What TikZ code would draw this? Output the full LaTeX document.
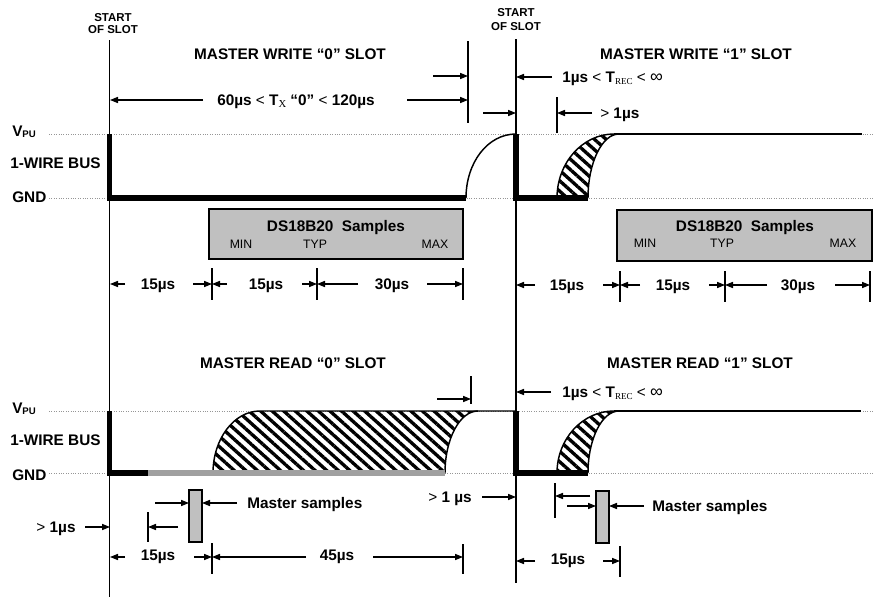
\documentclass[tikz,border=0pt]{standalone}
\usepackage{fontspec}
\setmainfont{Liberation Sans}
\newfontfamily\subfont{Liberation Serif}
\usetikzlibrary{arrows.meta,patterns.meta}
\definecolor{boxgray}{RGB}{192,192,192}
\definecolor{busgray}{RGB}{160,160,160}
\definecolor{dotgray}{RGB}{150,150,150}
\newcommand\mysub[1]{\raisebox{-1.3pt}{\subfont\mdseries\fontsize{8}{8}\selectfont #1}}
\newcommand\mysc[1]{\raisebox{-1.3pt}{\subfont\mdseries\fontsize{6.8}{7}\selectfont #1}}
\newcommand\rg[1]{{\mdseries #1}}
\newcommand\myinf{{\mdseries\fontsize{13.5}{13}\selectfont ∞}}
\begin{document}
\begin{tikzpicture}[x=0.75pt,y=-0.75pt,
  ln/.style={line width=0.8pt},
  ar/.style={line width=0.8pt,-{Triangle[length=6pt,width=4.6pt]}},
  bus/.style={line width=4pt,line join=miter},
  crv/.style={line width=1.1pt},
  dots/.style={dotgray,line width=0.6pt,dash pattern=on 0.6pt off 1.2pt},
  hatch/.style={pattern={Lines[angle=-42,distance=5.8pt,line width=2.5pt]}},
  big/.style={font=\fontsize{11.5}{13}\selectfont\bfseries,inner sep=0pt,text height=8.2pt,text depth=0pt},
  sml/.style={font=\fontsize{8.6}{10}\selectfont\bfseries,inner sep=0pt,text height=6.2pt,text depth=0pt},
  mm/.style={font=\fontsize{9.2}{10}\selectfont,inner sep=0pt,text height=6.6pt,text depth=0pt},
  sbox/.style={draw,line width=0.8pt,fill=boxgray},
]
\useasboundingbox (0,0) rectangle (883,603);

% ---------- reference levels ----------
\foreach \yy in {134,198,411,473} \draw[dots] (49,\yy) -- (873,\yy);

% ---------- start-of-slot lines ----------
\coordinate (L1) at (109.5,40);  \coordinate (L2) at (109.5,597);
\coordinate (R1) at (516,39);    \coordinate (R2) at (516,583);
\draw[ln] (L1) -- (L2);
\draw[ln] (R1) -- (R2);
\node[sml] (sl1) at (113,17) {START};
\node[sml] (sl2) at (113,29) {OF SLOT};
\node[sml] (sr1) at (516,12) {START};
\node[sml] (sr2) at (516,26) {OF SLOT};

% ---------- left labels ----------
\foreach \a/\b/\c in {131/163/197, 408/440/475}{
  \node[big,anchor=west] at (12,\a) {V\raisebox{-0.6pt}{\fontsize{7.2}{7}\selectfont PU}};
  \node[big,anchor=west] at (10,\b) {1-WIRE BUS};
  \node[big,anchor=west] at (12,\c) {GND};
}

% ---------- titles ----------
\node[big] (t1) at (290,54) {MASTER WRITE “0” SLOT};
\node[big] (t2) at (696,54) {MASTER WRITE “1” SLOT};
\node[big] (t3) at (293,363) {MASTER READ “0” SLOT};
\node[big] (t4) at (700,363) {MASTER READ “1” SLOT};

% =========== WRITE SLOTS ===========
% hatch write 1
\fill[hatch] (557,198) .. controls (557,162.8) and (582.6,134) .. (614,134)
  -- (619,134) .. controls (602,134) and (588,162.8) .. (588,198) -- cycle;
\draw[crv] (557,198) .. controls (557,162.8) and (582.6,134) .. (614,134);
\draw[crv] (619,134) .. controls (602,134) and (588,162.8) .. (588,198);
\draw[line width=1.3pt] (614,134) -- (862,134);
% write 0 rise
\draw[crv] (466,198) .. controls (466,162.8) and (487.6,134) .. (516,134);
% bus
\draw[bus] (109.5,134) -- (109.5,198) -- (466,198);
\draw[bus] (516,134) -- (516,198) -- (588,198);

% Tx dimension
\draw[ln] (468,41) -- (468,123);
\draw[ar] (433,76) -- (468,76);
\node[big] (tx) at (296,100) {60µs \rg{<} T\mysub{X} “0” \rg{<} 120µs};
\draw[ar] (203,100) -- (110,100);
\draw[ar] (407,100) -- (468,100);
\draw[ar] (483,113) -- (516,113);
\draw[ar] (552,77) -- (516,77);
\node[big,anchor=west] (trec1) at (562,77) {1µs \rg{<} T\mysc{REC} \rg{<} \myinf};
\draw[ln] (557,97) -- (557,133);
\draw[ar] (592,113) -- (557,113);
\node[big,anchor=west] (g1) at (600,113) {\rg{>} 1µs};

% DS18B20 boxes
\draw[sbox] (209,209) rectangle (463,259);
\node[big] at (336,226) {DS18B20\ \ Samples};
\node[mm] at (241,244) {MIN};
\node[mm] at (315,244) {TYP};
\node[mm] at (435,244) {MAX};
\draw[sbox] (617,210) rectangle (872,261);
\node[big] at (745,226) {DS18B20\ \ Samples};
\node[mm] at (645,243) {MIN};
\node[mm] at (722,243) {TYP};
\node[mm] at (843,243) {MAX};

% dimension row left
\foreach \xx in {212,317,463} \draw[ln] (\xx,268) -- (\xx,300);
\draw[ar] (125,284) -- (110,284);
\draw[ar] (193,284) -- (212,284);
\draw[ar] (227,284) -- (212,284);
\draw[ar] (302,284) -- (317,284);
\draw[ar] (358,284) -- (317,284);
\draw[ar] (427,284) -- (463,284);
\node[big] at (158,284) {15µs};
\node[big] at (266,284) {15µs};
\node[big] at (392,284) {30µs};
% dimension row right
\foreach \xx in {620,725,870} \draw[ln] (\xx,271) -- (\xx,302);
\draw[ar] (535,285) -- (516,285);
\draw[ar] (603,285) -- (620,285);
\draw[ar] (640,285) -- (620,285);
\draw[ar] (709,285) -- (725,285);
\draw[ar] (767,285) -- (725,285);
\draw[ar] (835,285) -- (870,285);
\node[big] at (567,285) {15µs};
\node[big] at (673,285) {15µs};
\node[big] at (798,285) {30µs};

% =========== READ SLOTS ===========
% hatch read 0
\fill[hatch] (213,473) .. controls (213,438.9) and (234,411) .. (260,411)
  -- (478,411) .. controls (459.8,411) and (445,438.9) .. (445,473) -- cycle;
\draw[crv] (213,473) .. controls (213,438.9) and (234,411) .. (260,411) -- (516,411);
\draw[crv] (478,411) .. controls (459.8,411) and (445,438.9) .. (445,473);
% hatch read 1
\fill[hatch] (557,473) .. controls (557,438.9) and (582.6,411) .. (614,411)
  -- (619,411) .. controls (602,411) and (588,438.9) .. (588,473) -- cycle;
\draw[crv] (557,473) .. controls (557,438.9) and (582.6,411) .. (614,411);
\draw[crv] (619,411) .. controls (602,411) and (588,438.9) .. (588,473);
\draw[line width=1.3pt] (614,411) -- (861,411);
% bus
\draw[bus] (109.5,411) -- (109.5,473) -- (148,473);
\draw[busgray,line width=4pt] (148,473) -- (445,473);
\draw[bus] (516,411) -- (516,473) -- (588,473);

% top arrows
\draw[ln] (471,376) -- (471,404);
\draw[ar] (437,399) -- (471,399);
\draw[ar] (551,392) -- (516,392);
\node[big,anchor=west] (trec2) at (562,392) {1µs \rg{<} T\mysc{REC} \rg{<} \myinf};

% master samples left
\draw[sbox] (189,490) rectangle (202,542);
\draw[ar] (155,503) -- (189,503);
\draw[ar] (237,503) -- (202,503);
\node[big,anchor=west] (ms1) at (247,503) {Master samples};
\draw[ln] (148,512) -- (148,542);
\draw[ar] (178,527) -- (148,527);
\node[big] (g2) at (56,527) {\rg{>} 1µs};
\draw[ar] (85,527) -- (110,527);
% dimension row bottom left
\draw[ln] (212,543) -- (212,574);
\draw[ln] (463,544) -- (463,574);
\draw[ar] (125,557) -- (110,557);
\draw[ar] (194,557) -- (212,557);
\draw[ar] (306,557) -- (212,557);
\draw[ar] (373,557) -- (463,557);
\node[big] at (158,555) {15µs};
\node[big] at (337,555) {45µs};

% master samples right
\node[big] (g3) at (450,497) {\rg{>} 1 µs};
\draw[ar] (482,497) -- (516,497);
\draw[ln] (555,483) -- (555,518);
\draw[ar] (590,496) -- (555,496);
\draw[sbox] (596,491) rectangle (609,543);
\draw[ar] (567,506) -- (596,506);
\draw[ar] (644,506) -- (609,506);
\node[big,anchor=west] (ms2) at (652,506) {Master samples};
% dimension row bottom right
\draw[ln] (620,546) -- (620,577);
\draw[ar] (535,561) -- (516,561);
\draw[ar] (603,561) -- (620,561);
\node[big] at (568,559) {15µs};
\end{tikzpicture}
\end{document}
